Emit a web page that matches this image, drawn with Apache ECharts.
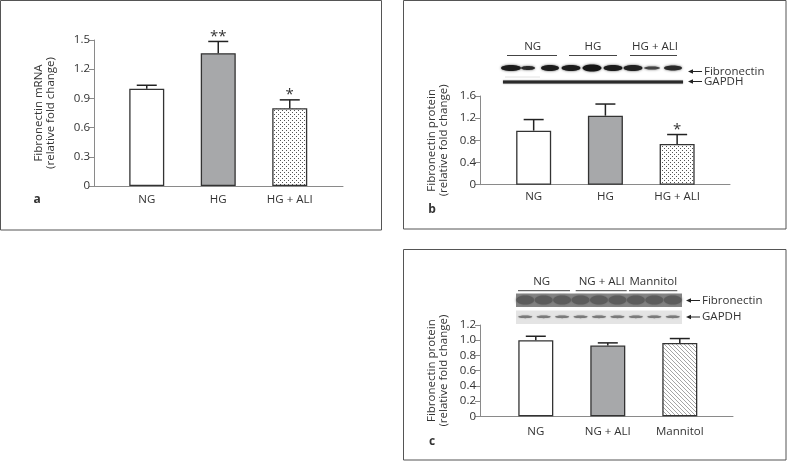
<!DOCTYPE html>
<html><head><meta charset="utf-8">
<script src="https://cdn.jsdelivr.net/npm/echarts@6/dist/echarts.min.js"></script>
<style>html,body{margin:0;padding:0;background:#fff}#c{width:787px;height:468px}</style>
</head><body><div id="c"></div>
<script>
// ---- data ----
const catsA = ['NG', 'HG', 'HG + ALI'];
const valsA = [1.00, 1.365, 0.80];
const errA = [0.035, 0.12, 0.085];
const sigA = ['', '**', '*'];
const ticksA = ['0', '0.3', '0.6', '0.9', '1.2', '1.5'];

const catsB = ['NG', 'HG', 'HG + ALI'];
const valsB = [0.975, 1.245, 0.735];
const errB = [0.20, 0.21, 0.17];
const sigB = ['', '', '*'];
const ticksB = ['0', '0.4', '0.8', '1.2', '1.6'];

const catsC = ['NG', 'NG + ALI', 'Mannitol'];
const valsC = [1.00, 0.93, 0.965];
const errC = [0.052, 0.035, 0.057];
const sigC = ['', '', ''];
const ticksC = ['0', '0.2', '0.4', '0.6', '0.8', '1.0', '1.2'];

const blotLabelsB = ['NG', 'HG', 'HG + ALI'];
const blotLabelsC = ['NG', 'NG + ALI', 'Mannitol'];

// ---- styles ----
const FONT = '"Open Sans", "Noto Sans", sans-serif';
const TXT = '#333';
const AX = '#8a8a8a';

function dotPattern() {
  const c = document.createElement('canvas'); c.width = 4; c.height = 4;
  const g = c.getContext('2d');
  g.fillStyle = '#fff'; g.fillRect(0, 0, 4, 4);
  g.fillStyle = '#555'; g.fillRect(0, 0, 1, 1); g.fillRect(2, 2, 1, 1);
  return c;
}
function hatchPattern() {
  const c = document.createElement('canvas'); c.width = 4; c.height = 4;
  const g = c.getContext('2d');
  g.fillStyle = '#fff'; g.fillRect(0, 0, 4, 4);
  g.fillStyle = '#a5a5a5';
  for (let i = 0; i < 4; i++) g.fillRect(i, i, 1, 1);
  return c;
}
const WHITE = '#ffffff', GRAY = '#a7a8aa';
const DOTS = { image: dotPattern(), repeat: 'repeat' };
const HATCH = { image: hatchPattern(), repeat: 'repeat' };

const chart = echarts.init(document.getElementById('c'), null, { renderer: 'canvas' });

function fmt(ticks) {
  return function (v) {
    const s = (Math.abs(v) < 1e-9) ? '0' : v.toFixed(1);
    return ticks.indexOf(s) >= 0 ? s : '';
  };
}

const grids = [
  { left: 111, top: 40, width: 214.5, height: 146 },
  { left: 94, top: 40, width: 249, height: 146 },
  { left: 497.8, top: 96, width: 215.2, height: 88.7 },
  { left: 480, top: 96, width: 250, height: 88.7 },
  { left: 499.8, top: 325, width: 216, height: 91.3 },
  { left: 480, top: 325, width: 253, height: 91.3 }
];

function catAxis(gi, cats, margin) {
  return {
    type: 'category', gridIndex: gi, data: cats,
    axisLine: { show: false }, axisTick: { show: false },
    axisLabel: { color: TXT, fontSize: 11.5, fontFamily: FONT, margin: margin }
  };
}
function lineAxis(gi) {
  return {
    type: 'value', gridIndex: gi, min: 0, max: 1,
    axisLine: { show: true, lineStyle: { color: AX, width: 1 } },
    axisTick: { show: false }, axisLabel: { show: false }, splitLine: { show: false }
  };
}
function valAxis(gi, max, interval, ticks, offset, name, nameGap) {
  return {
    type: 'value', gridIndex: gi, min: 0, max: max, interval: interval, offset: offset,
    axisLine: { show: true, lineStyle: { color: AX, width: 1 } },
    axisTick: { show: true, length: 5, lineStyle: { color: AX } },
    axisLabel: { color: TXT, fontSize: 11.5, fontFamily: FONT, margin: 4, formatter: fmt(ticks) },
    splitLine: { show: false },
    name: name, nameLocation: 'middle', nameGap: nameGap,
    nameTextStyle: { color: TXT, fontSize: 11.5, fontFamily: FONT, lineHeight: 12 }
  };
}
function hidY(gi) { return { type: 'value', gridIndex: gi, show: false, min: 0, max: 1 }; }

function barSeries(ai, vals, fills) {
  return {
    type: 'bar', xAxisIndex: ai, yAxisIndex: ai, barWidth: 35, z: 3,
    data: vals.map((v, i) => ({ value: v, itemStyle: { color: fills[i] } })),
    itemStyle: { borderColor: '#333', borderWidth: 1.3 }
  };
}
function errSeries(ai, vals, errs, sigs) {
  return {
    type: 'custom', xAxisIndex: ai, yAxisIndex: ai, z: 5,
    data: vals.map((v, i) => [i, v, v + errs[i]]),
    renderItem: function (params, api) {
      const x = api.value(0);
      const b = api.coord([x, api.value(1)]);
      const t = api.coord([x, api.value(2)]);
      const ch = [
        { type: 'line', shape: { x1: b[0], y1: b[1], x2: t[0], y2: t[1] }, style: { stroke: '#222', lineWidth: 1.5 } },
        { type: 'line', shape: { x1: t[0] - 10, y1: t[1], x2: t[0] + 10, y2: t[1] }, style: { stroke: '#222', lineWidth: 1.5 } }
      ];
      const s = sigs[params.dataIndex];
      if (s) ch.push({ type: 'text', x: t[0], y: t[1] - 5, style: { text: s, fill: TXT, font: '15px ' + FONT, textAlign: 'center', textVerticalAlign: 'middle' } });
      return { type: 'group', children: ch };
    }
  };
}

// ---- decorative graphics: frames, panel letters, blots ----
const G = [];
function frame(x, y, w, h) { G.push({ type: 'rect', shape: { x: x, y: y, width: w, height: h }, style: { fill: null, stroke: '#555', lineWidth: 1 }, silent: true }); }
function txt(s, x, y, align, opts) {
  G.push({ type: 'text', x: x, y: y, style: Object.assign({ text: s, fill: TXT, font: '11.5px ' + FONT, textAlign: align || 'center', textVerticalAlign: 'middle' }, opts || {}) });
}
function hline(x1, x2, y, col, w) { G.push({ type: 'line', shape: { x1: x1, y1: y, x2: x2, y2: y }, style: { stroke: col || '#444', lineWidth: w || 1 } }); }
function arrowLabel(x, y, s) {
  hline(x + 3, x + 14, y, '#222', 1);
  G.push({ type: 'polygon', shape: { points: [[x, y], [x + 5, y - 2.2], [x + 5, y + 2.2]] }, style: { fill: '#222' } });
  txt(s, x + 16, y, 'left', { font: '11.5px ' + FONT });
}
frame(0.5, 0.5, 381, 229.5);
frame(403.5, 0.5, 382.5, 228.5);
frame(403.5, 249.5, 382.5, 210.5);
txt('a', 37, 200, 'center', { font: 'bold 12px ' + FONT });
txt('b', 432, 210, 'center', { font: 'bold 12px ' + FONT });
txt('c', 432, 442, 'center', { font: 'bold 12px ' + FONT });

// blot b
txt(blotLabelsB[0], 532.7, 46.7); txt(blotLabelsB[1], 593, 46.7); txt(blotLabelsB[2], 655, 46.7);
hline(507, 557, 55.5); hline(569, 617, 55.5); hline(630, 677, 55.5);
const lanesB = [[511, 18, 6, '#1c1c1c'], [528, 12, 4, '#2a2a2a'], [550, 16, 6, '#1c1c1c'], [571, 17, 6, '#1c1c1c'], [592, 17, 7, '#161616'],
  [613, 17, 6, '#1c1c1c'], [633, 17, 6, '#222'], [652, 14, 3, '#444'], [673, 16, 5, '#2a2a2a']];
lanesB.forEach(l => G.push({ type: 'ellipse', shape: { cx: l[0], cy: 68, rx: l[1] / 2 + 1, ry: l[2] / 2 }, style: { fill: l[3], shadowBlur: 2.5, shadowColor: '#555' } }));
G.push({ type: 'rect', shape: { x: 503, y: 80.5, width: 180, height: 3 }, style: { fill: '#2a2a2a', shadowBlur: 1.5, shadowColor: '#777' } });
hline(505, 540, 77, '#e2e2e2', 1);
arrowLabel(688, 71.5, 'Fibronectin');
arrowLabel(688, 81.5, 'GAPDH');

// blot c
txt(blotLabelsC[0], 541.7, 281.7); txt(blotLabelsC[1], 601.7, 281.7); txt(blotLabelsC[2], 653.3, 281.7);
hline(518, 570, 290.7); hline(575.7, 626.7, 290.7); hline(629, 677.3, 290.7);
G.push({ type: 'rect', shape: { x: 516, y: 293.5, width: 166, height: 13.5 }, style: { fill: '#858585' } });
G.push({ type: 'rect', shape: { x: 516, y: 310.5, width: 166, height: 13.5 }, style: { fill: '#e4e4e4' } });
for (let i = 0; i < 9; i++) {
  const cx = 516 + 166 / 9 * (i + 0.5);
  G.push({ type: 'ellipse', shape: { cx: cx, cy: 300, rx: 9, ry: 4.5 }, style: { fill: '#5c5c5c', shadowBlur: 3, shadowColor: '#6a6a6a' } });
  G.push({ type: 'ellipse', shape: { cx: cx, cy: 316.8, rx: 7, ry: 1.4 }, style: { fill: '#7a7a7a', shadowBlur: 1.5, shadowColor: '#999' } });
}
arrowLabel(686, 300.5, 'Fibronectin');
arrowLabel(686, 317, 'GAPDH');

const option = {
  animation: false,
  backgroundColor: '#fff',
  grid: grids,
  xAxis: [catAxis(0, catsA, 8), lineAxis(1), catAxis(2, catsB, 6), lineAxis(3), catAxis(4, catsC, 9), lineAxis(5)],
  yAxis: [
    valAxis(0, 1.5, 0.3, ticksA, 17, 'Fibronectin mRNA\n(relative fold change)', 37), hidY(1),
    valAxis(2, 1.6, 0.4, ticksB, 17.8, 'Fibronectin protein\n(relative fold change)', 30), hidY(3),
    valAxis(4, 1.2, 0.2, ticksC, 19.8, 'Fibronectin protein\n(relative fold change)', 30), hidY(5)
  ],
  series: [
    barSeries(0, valsA, [WHITE, GRAY, DOTS]), errSeries(0, valsA, errA, sigA),
    barSeries(2, valsB, [WHITE, GRAY, DOTS]), errSeries(2, valsB, errB, sigB),
    barSeries(4, valsC, [WHITE, GRAY, HATCH]), errSeries(4, valsC, errC, sigC)
  ],
  graphic: G
};
chart.setOption(option);
</script></body></html>
